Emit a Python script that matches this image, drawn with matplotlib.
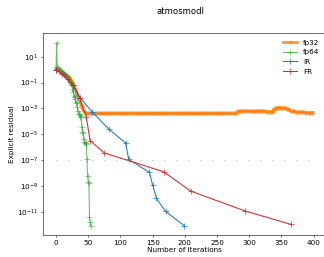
import numpy as np
import matplotlib
matplotlib.use("Agg")
import matplotlib.pyplot as plt
from matplotlib.ticker import FixedLocator, NullLocator, LogFormatterSciNotation

# fp32: log10 residual for iterations 0..48, then run-length levels
fp32Head = [0.05, 0.02, 0.0, -0.05, -0.03, -0.1, -0.12, -0.1, -0.18, -0.2,
            -0.22, -0.25, -0.28, -0.3, -0.35, -0.38, -0.42, -0.45, -0.5, -0.55,
            -0.6, -0.65, -0.72, -0.8, -0.88, -0.95, -1.05, -1.15, -1.25, -1.4,
            -1.5, -1.65, -1.8, -1.95, -2.1, -2.2, -2.3, -2.45, -2.6, -2.75,
            -2.85, -3.0, -3.1, -3.2, -3.26, -3.3, -3.35, -3.38, -3.39]
fp32Levels = [-3.39, -3.22, -3.2, -3.23, -3.21, -3.25, -3.05, -2.93, -2.96,
              -3.08, -3.2, -3.27, -3.32]
fp32Runs = [233, 9, 10, 12, 13, 12, 4, 9, 7, 5, 8, 15, 14]

# fp64: log10 residual for iterations 0..54
fp64Log = [0.0, 2.1, 0.2, 0.1, 0.05, 0.0, -0.05, -0.1, -0.1, -0.15,
           -0.2, -0.25, -0.3, -0.35, -0.4, -0.45, -0.5, -0.55, -0.6, -0.7,
           -0.8, -0.85, -0.95, -1.0, -1.1, -1.2, -1.7, -1.5, -2.1, -2.0,
           -2.3, -2.6, -2.5, -2.9, -3.2, -3.4, -3.45, -3.5, -3.65, -3.6,
           -4.4, -4.8, -4.9, -5.4, -5.6, -5.7, -5.65, -5.75, -6.9, -8.25,
           -8.7, -8.75, -11.4, -11.8, -12.1]

irIter = [0, 13, 26, 38, 56, 82, 108, 113, 145, 150, 156, 170, 199]
irLog = [0.0, -0.45, -1.2, -2.2, -3.26, -4.6, -5.67, -6.95, -7.95, -8.94,
         -9.97, -10.97, -12.08]

frIter = [0, 9, 18, 27, 37, 47, 53, 75, 167, 209, 294, 365]
frLog = [0.0, -0.35, -0.75, -1.2, -2.2, -3.65, -5.5, -6.45, -7.9, -9.4,
         -10.95, -11.98]

threshold = 1e-7
thresholdRange = [0, 400]


def main() -> None :
    fp32Log = list(fp32Head)
    for level, run in zip(fp32Levels, fp32Runs) :
        fp32Log += [level] * run

    fp32Res = 10.0 ** np.array(fp32Log)
    fp64Res = 10.0 ** np.array(fp64Log)
    irRes = 10.0 ** np.array(irLog)
    frRes = 10.0 ** np.array(frLog)

    plt.rcParams["font.size"] = 10.4

    fig = plt.figure(figsize=(6.48, 5.14), dpi=50)
    ax = fig.add_axes([0.133, 0.0856, 0.873, 0.786])

    ax.plot(np.arange(len(fp32Res)), fp32Res, marker="+", markersize=6,
            lw=4, color="#ff7f0e", alpha=0.8, label="fp32")
    ax.plot(np.arange(len(fp64Res)), fp64Res, marker="+", markersize=8,
            lw=1.5, color="#2ca02c", alpha=0.7, label="fp64")
    ax.plot(irIter, irRes, marker="+", markersize=8, lw=1.5,
            color="#1f77b4", label="IR")
    ax.plot(frIter, frRes, marker="+", markersize=8, lw=1.5,
            color="#d62728", label="FR")
    ax.plot(thresholdRange, [threshold, threshold], color="gray", lw=1,
            linestyle=(0, (1.44, 15.84)))

    ax.set_yscale("log")
    ax.set_xlim(-20, 419)
    ax.set_ylim(10 ** -12.8, 10 ** 2.84)
    ax.yaxis.set_major_locator(FixedLocator([10.0 ** k for k in range(-11, 2, 2)]))
    ax.yaxis.set_major_formatter(LogFormatterSciNotation())
    ax.yaxis.set_minor_locator(NullLocator())
    ax.set_xticks([0, 50, 100, 150, 200, 250, 300, 350, 400])

    ax.set_xlabel("Number of iterations", labelpad=1)
    ax.set_ylabel("Explicit residual", labelpad=3)
    fig.text(0.556, 0.957, "atmosmodl", ha="center", va="center", fontsize=12.2)
    ax.legend(loc="upper right", frameon=False)

    fig.savefig("out.png", dpi=50)


if __name__ == "__main__" :
    main()
